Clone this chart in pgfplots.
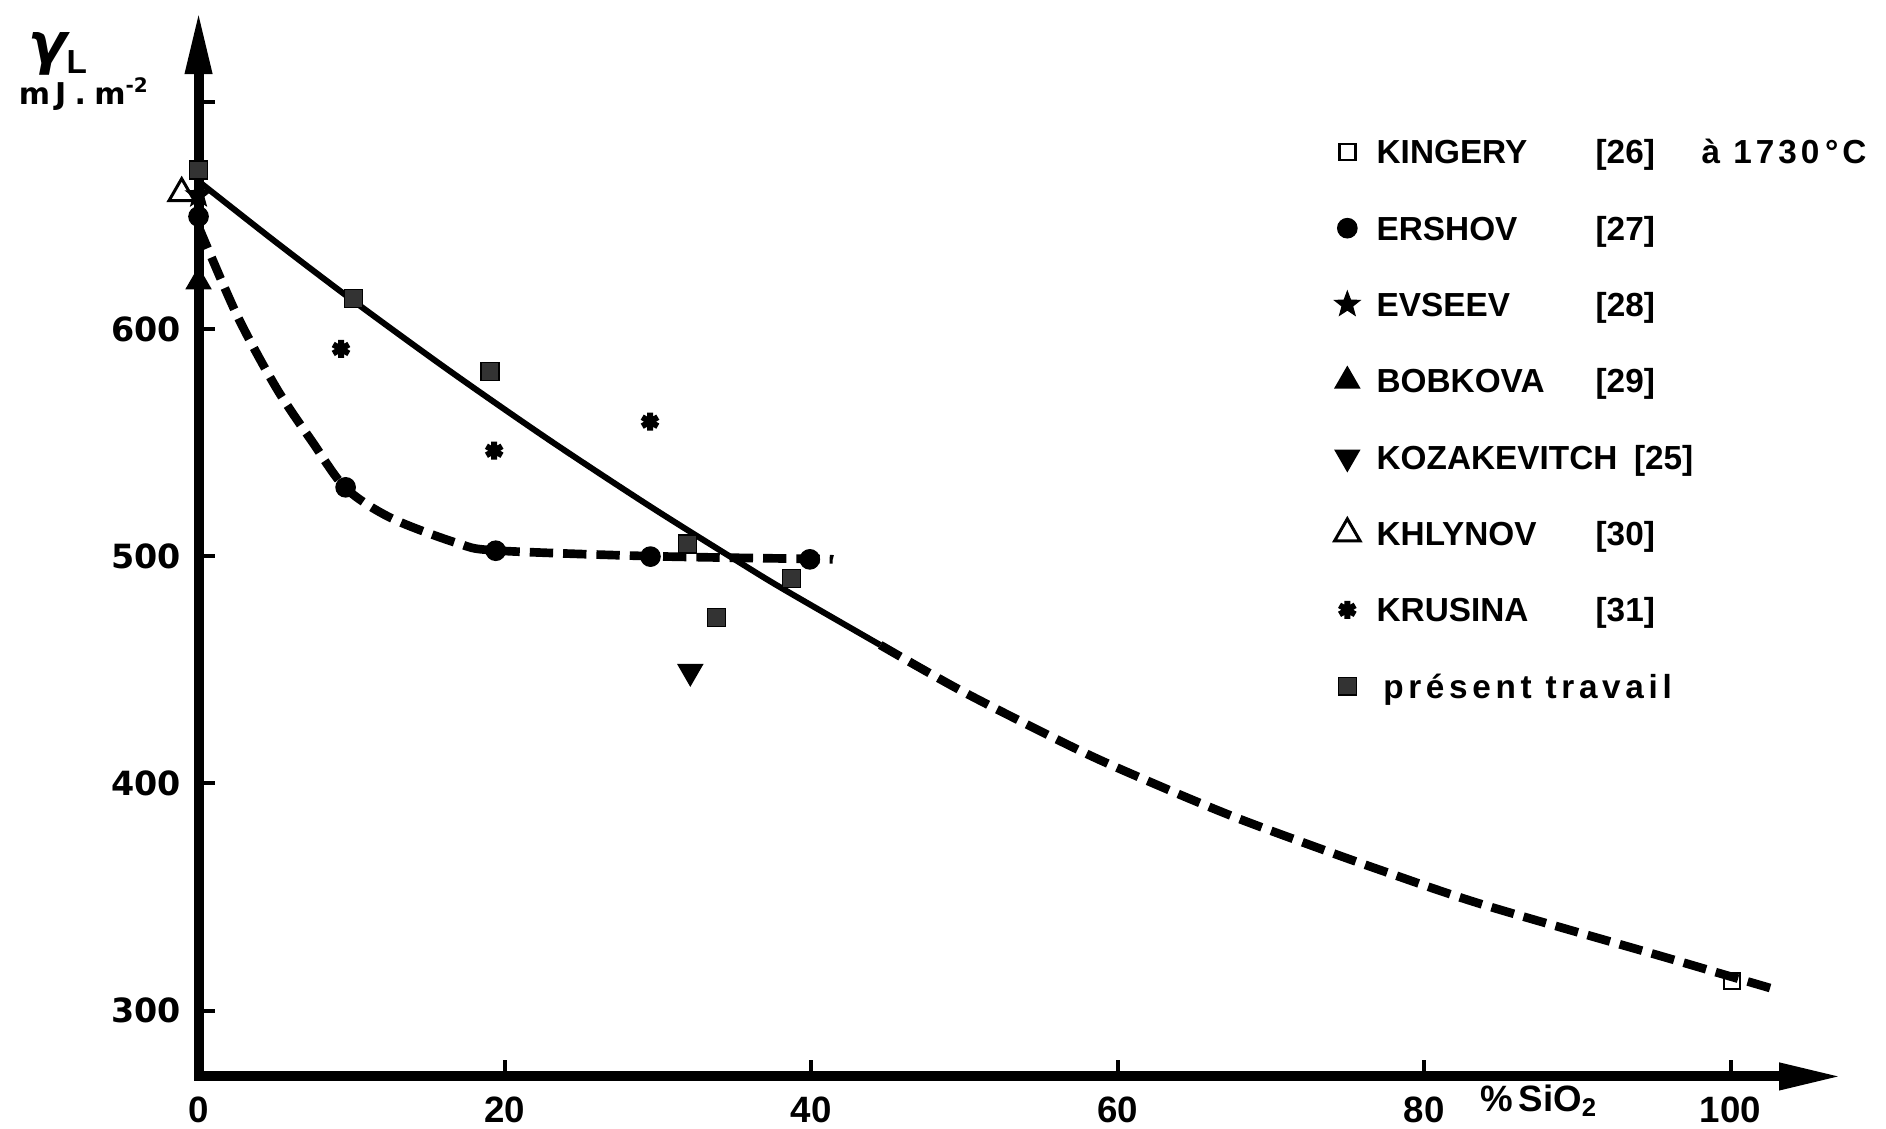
\documentclass[border=0pt]{standalone}
\usepackage{amsmath}
\usepackage{fontspec}
\setmainfont{Liberation Sans}
\newfontfamily\dejavu{DejaVu Sans}
\usepackage{pgfplots}
\pgfplotsset{compat=1.18}
\usetikzlibrary{arrows.meta}

% filled five-pointed star for EVSEEV
\pgfdeclareplotmark{fstar}{%
  \pgfpathmoveto{\pgfpointpolar{90}{\pgfplotmarksize}}%
  \pgfpathlineto{\pgfpointpolar{126}{0.42\pgfplotmarksize}}%
  \pgfpathlineto{\pgfpointpolar{162}{\pgfplotmarksize}}%
  \pgfpathlineto{\pgfpointpolar{198}{0.42\pgfplotmarksize}}%
  \pgfpathlineto{\pgfpointpolar{234}{\pgfplotmarksize}}%
  \pgfpathlineto{\pgfpointpolar{270}{0.42\pgfplotmarksize}}%
  \pgfpathlineto{\pgfpointpolar{306}{\pgfplotmarksize}}%
  \pgfpathlineto{\pgfpointpolar{342}{0.42\pgfplotmarksize}}%
  \pgfpathlineto{\pgfpointpolar{18}{\pgfplotmarksize}}%
  \pgfpathlineto{\pgfpointpolar{54}{0.42\pgfplotmarksize}}%
  \pgfpathclose
  \pgfusepathqfillstroke}

\begin{document}
\begin{tikzpicture}
\begin{axis}[
  x=4.596pt, y=0.6816pt,
  xmin=0, xmax=107.3,
  ymin=271, ymax=740,
  axis lines=left,
  axis line style={line width=3pt, line cap=rect, -{Triangle[length=19pt,width=7.5pt]}},
  clip=false,
  xtick={0,20,40,60,80,100},
  ytick={300,400,500,600,700},
  yticklabels={300,400,500,600,},
  tick align=inside,
  major tick length=5pt,
  tick style={line width=1.2pt, black},
  /pgf/number format/assume math mode=true,
  xticklabel style={font=\fontsize{11}{11}\selectfont\bfseries, yshift=-2.5pt},
  yticklabel style={font=\dejavu\bfseries\fontsize{10}{10}\selectfont, xshift=-1.8pt},
  legend style={
    at={(axis cs:73.9,685.3)}, anchor=north west,
    draw=none, fill=none, inner sep=0pt, outer sep=0pt,
    row sep=12.9pt, column sep=3.8pt,
    font=\fontsize{10}{10}\selectfont\bfseries,
    nodes={inner sep=0pt, text height=7.2pt, text depth=0pt},
  },
  legend cell align=left,
  legend image code/.code={%
    \path[draw=none, fill=none] (-5pt,-5pt) rectangle (5pt,5pt);
    \draw[mark repeat=1,mark phase=1,#1] plot coordinates {(0pt,0pt)};},
]

% present work fit (solid)
\addplot[forget plot, line width=1.8pt, smooth, tension=0.5] coordinates {
  (0,665) (5,638.5) (10.1,612.4) (16.4,581.5) (22.9,551.1) (29.5,521.8)
  (35.35,497.1) (38.2,485.4) (44.5,460.9)};
% extrapolation towards pure silica (dashed)
\addplot[forget plot, line width=2.6pt, dash pattern=on 7pt off 3pt, smooth, tension=0.5] coordinates {
  (44.5,460.9) (50,440) (57.5,414.5) (62.5,399.5) (67.5,385.5) (72.5,373)
  (77.5,361) (83.9,346.5) (95.7,323.5) (100,315) (102.8,309.5)};
% Ershov curve (dashed)
\addplot[forget plot, line width=2.6pt, dash pattern=on 7pt off 3pt, smooth, tension=0.5] coordinates {
  (0,645) (2.55,605.5) (5.1,573.8) (7.45,550.1) (9.6,530) (12.56,516.8)
  (16.9,505.7) (19.4,502.5) (29.5,500) (39.9,498.8) (41.4,498.6)};

% KINGERY
\addplot[only marks, mark=square, mark size=2.4pt, line width=0.8pt, mark options={fill=white}] coordinates {(100.1,313)};
% ERSHOV
\addplot[only marks, mark=*, mark size=2.9pt] coordinates {(0,649.5) (9.6,530.3) (19.4,502.4) (29.5,499.8) (39.9,498.6)};
% EVSEEV
\addplot[only marks, mark=fstar, mark size=4pt, line width=0.3pt] coordinates {(0,659)};
% BOBKOVA
\addplot[only marks, mark=triangle*, mark size=4.2pt] coordinates {(0,620.8)};
% KOZAKEVITCH
\addplot[only marks, mark=triangle*, mark size=4.2pt, mark options={rotate=180}] coordinates {(32.1,449.2)};
% KHLYNOV
\addplot[only marks, mark=triangle, mark size=4.4pt, line width=0.9pt, mark options={fill=white}] coordinates {(-1.1,659.7)};
% KRUSINA
\addplot[only marks, mark=asterisk, mark size=2.7pt, line width=1.8pt] coordinates {(9.3,591.2) (19.3,546.4) (29.47,559.2)};
% present travail
\addplot[only marks, mark=square*, mark size=2.7pt, mark options={fill=black!80, draw=black}] coordinates {
  (0,670) (10.12,613.4) (19.03,581.2) (31.9,505.4) (33.8,473) (38.7,490.3)};

\legend{
  \makebox[65.7pt][l]{KINGERY}[26]\hspace{14pt}{\addfontfeature{LetterSpace=12}à 1730\,°C},
  \makebox[65.7pt][l]{ERSHOV}[27],
  \makebox[65.7pt][l]{EVSEEV}[28],
  \makebox[65.7pt][l]{BOBKOVA}[29],
  KOZAKEVITCH\hspace{5pt}[25],
  \makebox[65.7pt][l]{KHLYNOV}[30],
  \makebox[65.7pt][l]{KRUSINA}[31],
  \hspace{2pt}{\addfontfeature{LetterSpace=14}présent travail}}

\node[font=\fontsize{11}{11}\selectfont\bfseries] at (axis cs:87.5,260.4) {\%\,SiO\textsubscript{2}};
\node at (axis cs:-9.2,721) {{\dejavu\bfseries\itshape\fontsize{17}{17}\selectfont γ}\raisebox{-3pt}{\fontsize{10}{10}\selectfont\bfseries L}};
\node[font=\dejavu\bfseries\fontsize{9}{9}\selectfont] at (axis cs:-7.47,703.4) {m\,J\;.\;m\textsuperscript{-2}};

\coordinate (bbsw) at (axis cs:-12.96,248.3);
\coordinate (bbne) at (axis cs:110.15,744.8);
\end{axis}
\pgfresetboundingbox
\path (bbsw) rectangle (bbne);
\end{tikzpicture}
\end{document}
